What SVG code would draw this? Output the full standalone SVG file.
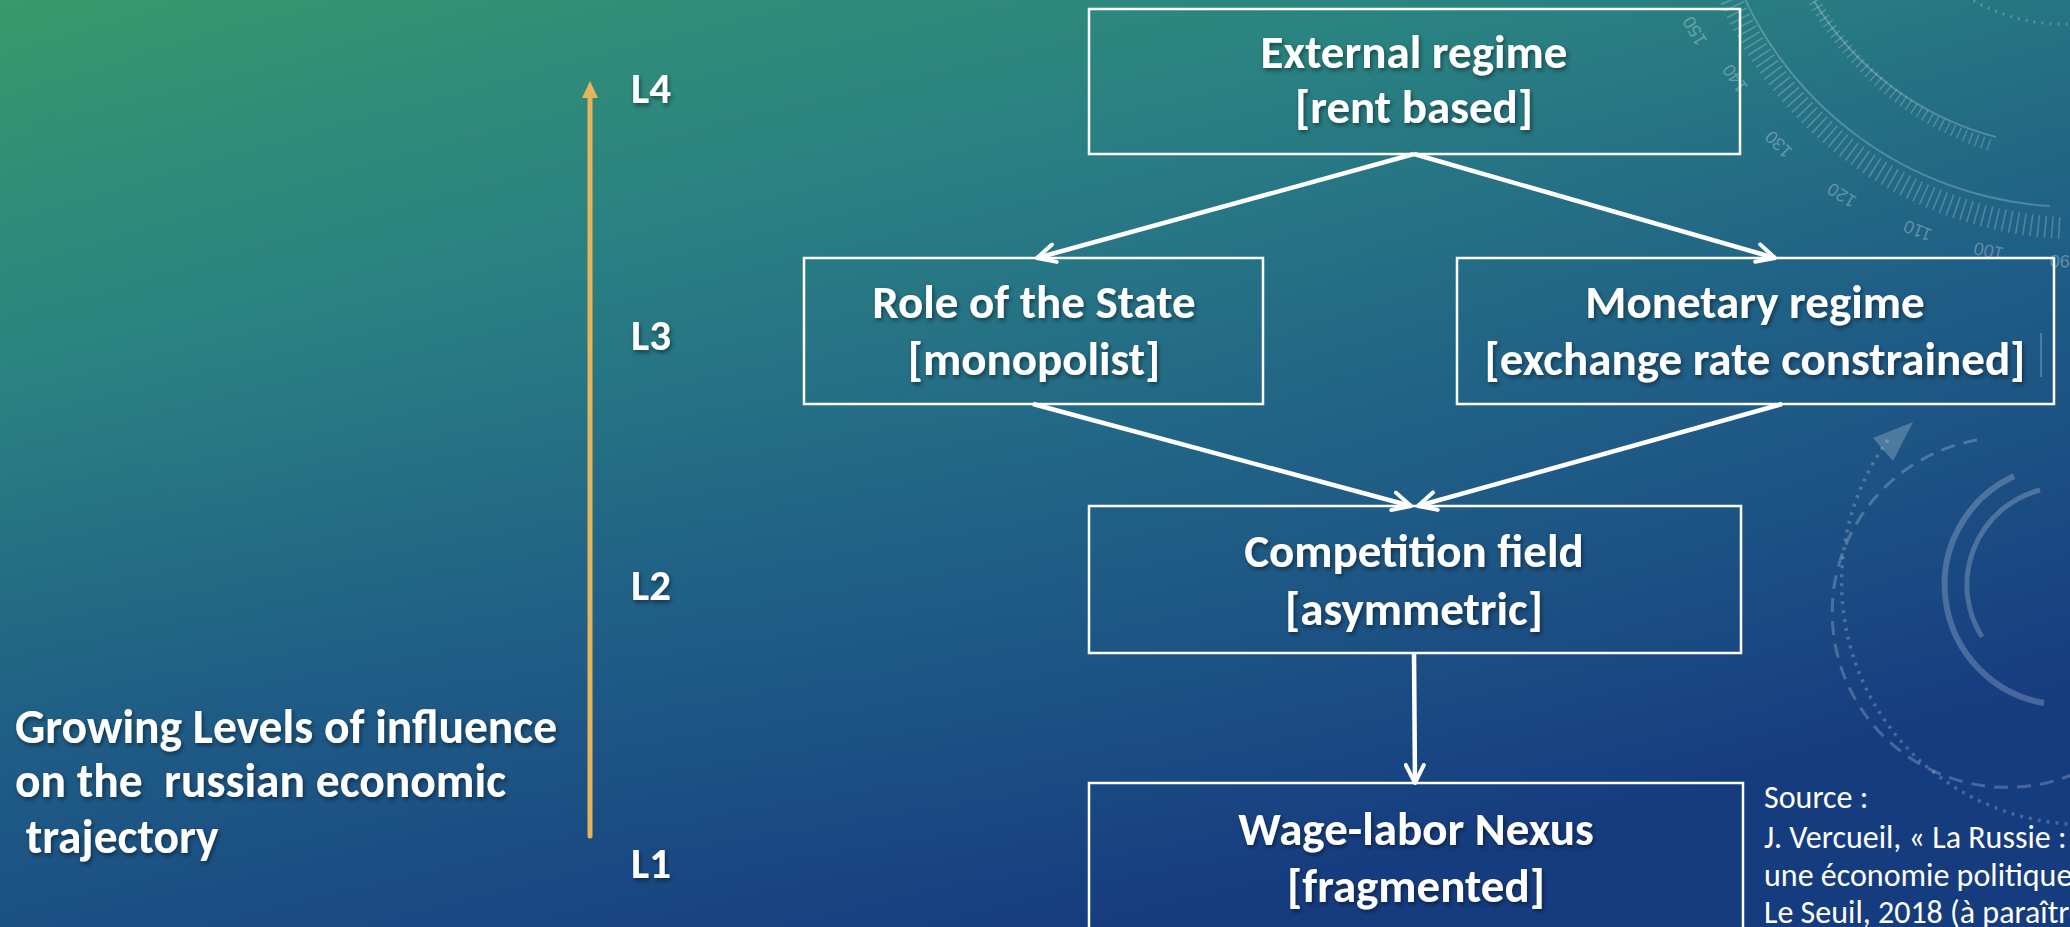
<svg xmlns="http://www.w3.org/2000/svg" width="2070" height="927" viewBox="0 0 2070 927">
<defs>
<linearGradient id="bg" x1="0" y1="0" x2="0.55" y2="1">
<stop offset="0" stop-color="#38996b"/>
<stop offset="0.3" stop-color="#2a8480"/>
<stop offset="0.62" stop-color="#1f5d86"/>
<stop offset="1" stop-color="#163c80"/>
</linearGradient>
<radialGradient id="glow" cx="0.5" cy="0.35" r="0.6">
<stop offset="0" stop-color="#2a7d8a" stop-opacity="0.25"/>
<stop offset="1" stop-color="#2a7d8a" stop-opacity="0"/>
</radialGradient>
<marker id="vh" viewBox="0 0 22 22" refX="20" refY="11" markerWidth="22" markerHeight="22" markerUnits="userSpaceOnUse" orient="auto">
<path d="M2,2 L20,11 L2,20" fill="none" stroke="#fff" stroke-width="4" stroke-linecap="round" stroke-linejoin="round"/>
</marker>
<filter id="sh" x="-10%" y="-20%" width="120%" height="150%">
<feDropShadow dx="1.5" dy="2.5" stdDeviation="2" flood-color="#000" flood-opacity="0.45"/>
</filter>
</defs>
<style>
.box{fill:none;stroke:#fff;stroke-width:2.5}
.t{font-family:Carlito,Lato,"Open Sans",sans-serif;font-weight:700;font-size:47px;fill:#fff;text-anchor:middle}
.lv{font-family:Carlito,Lato,"Open Sans",sans-serif;font-weight:700;font-size:43px;fill:#fff}
.side{font-family:Carlito,Lato,"Open Sans",sans-serif;font-weight:700;font-size:47.5px;fill:#fff}
.src{font-family:Carlito,Lato,"Open Sans",sans-serif;font-weight:400;font-size:32px;fill:#fff}
.con{fill:none;stroke:#fff;stroke-width:4.5;marker-end:url(#vh)}
.deco{fill:none;stroke:#fff;stroke-opacity:0.22}
.num{font-family:"Liberation Sans",sans-serif;font-size:18px;fill:#fff;fill-opacity:0.3;text-anchor:middle}
</style>
<rect width="2070" height="927" fill="url(#bg)"/>
<rect width="2070" height="927" fill="url(#glow)"/>

<g id="decoration">
<path class="deco" stroke-width="2" d="M1732,-32 A362,362 0 0 0 2050,206"/>
<path class="deco" stroke-width="2" d="M1814,1 A303,303 0 0 0 1996,137"/>
<path class="deco" stroke-width="22" stroke-dasharray="1.6 5.4" d="M1716,-40 A384,384 0 0 0 2060,228"/>
<path class="deco" stroke-width="12" stroke-dasharray="1.4 5" d="M1808,-10 A312,312 0 0 0 1990,145"/>
<path class="deco" stroke-width="3" stroke-dasharray="2 6" d="M1960,-8 A180,180 0 0 0 2070,24"/>
<text class="num" transform="translate(1700,28) rotate(240)">150</text>
<text class="num" transform="translate(1740,75) rotate(235)">140</text>
<text class="num" transform="translate(1783,140) rotate(225)">130</text>
<text class="num" transform="translate(1845,190) rotate(212)">120</text>
<text class="num" transform="translate(1920,225) rotate(202)">110</text>
<text class="num" transform="translate(1990,245) rotate(192)">100</text>
<text class="num" transform="translate(2060,255) rotate(182)">90</text>
<path class="deco" stroke-width="6" d="M2014,476 A120,120 0 0 0 2044,703"/>
<path class="deco" stroke-width="5" d="M2040,490 A98,98 0 0 0 1982,637"/>
<path class="deco" stroke-width="3" stroke-dasharray="14 9" d="M1977,440 A175,175 0 1 0 2110,754"/>
<path class="deco" stroke-width="3.5" stroke-dasharray="3 6" d="M1888,440 A242,242 0 0 0 2110,823"/>
<path d="M1873,438 L1913,422 L1893,461 Z" fill="#fff" fill-opacity="0.22"/>
<line class="deco" stroke-width="2" x1="2041" y1="333" x2="2041" y2="377"/>
</g>

<g id="connectors">
<line class="con" x1="1414" y1="154" x2="1037" y2="258"/>
<line class="con" x1="1414" y1="154" x2="1775" y2="258"/>
<line class="con" x1="1033" y1="404" x2="1411" y2="506"/>
<line class="con" x1="1782" y1="404" x2="1418" y2="506"/>
<line class="con" x1="1414" y1="653" x2="1415" y2="783"/>
</g>

<g id="level-axis">
<line x1="590" y1="95" x2="590" y2="836" stroke="#e6b45b" stroke-width="5" stroke-linecap="round"/>
<path d="M582,98 L590,81 L598,98 Z" fill="#e6b45b"/>
</g>

<g id="level-labels" filter="url(#sh)">
<text class="lv" x="631" y="103">L4</text>
<text class="lv" x="631" y="350">L3</text>
<text class="lv" x="631" y="600">L2</text>
<text class="lv" x="631" y="878">L1</text>
</g>

<g id="axis-caption" filter="url(#sh)">
<text class="side" x="15" y="743">Growing Levels of influence</text>
<text class="side" x="15" y="797" xml:space="preserve">on the  russian economic</text>
<text class="side" x="15" y="853" xml:space="preserve"> trajectory</text>
</g>

<g id="node-external">
<rect class="box" x="1089" y="9" width="651" height="145"/>
<g filter="url(#sh)">
<text class="t" x="1414" y="68">External regime</text>
<text class="t" x="1414" y="123">[rent based]</text>
</g>
</g>

<g id="node-state">
<rect class="box" x="804" y="258" width="459" height="146"/>
<g filter="url(#sh)">
<text class="t" x="1034" y="318">Role of the State</text>
<text class="t" x="1034" y="375">[monopolist]</text>
</g>
</g>

<g id="node-monetary">
<rect class="box" x="1457" y="258" width="597" height="146"/>
<g filter="url(#sh)">
<text class="t" x="1755" y="318">Monetary regime</text>
<text class="t" x="1755" y="375">[exchange rate constrained]</text>
</g>
</g>

<g id="node-competition">
<rect class="box" x="1089" y="506" width="652" height="147"/>
<g filter="url(#sh)">
<text class="t" x="1414" y="567">Competition field</text>
<text class="t" x="1414" y="625">[asymmetric]</text>
</g>
</g>

<g id="node-wage">
<rect class="box" x="1089" y="783" width="654" height="170"/>
<g filter="url(#sh)">
<text class="t" x="1416" y="845">Wage-labor Nexus</text>
<text class="t" x="1416" y="902">[fragmented]</text>
</g>
</g>

<g id="source">
<text class="src" x="1764" y="808">Source :</text>
<text class="src" x="1764" y="848">J. Vercueil, « La Russie :</text>
<text class="src" x="1764" y="886">une économie politique</text>
<text class="src" x="1764" y="923">Le Seuil, 2018 (à paraître)</text>
</g>
</svg>
